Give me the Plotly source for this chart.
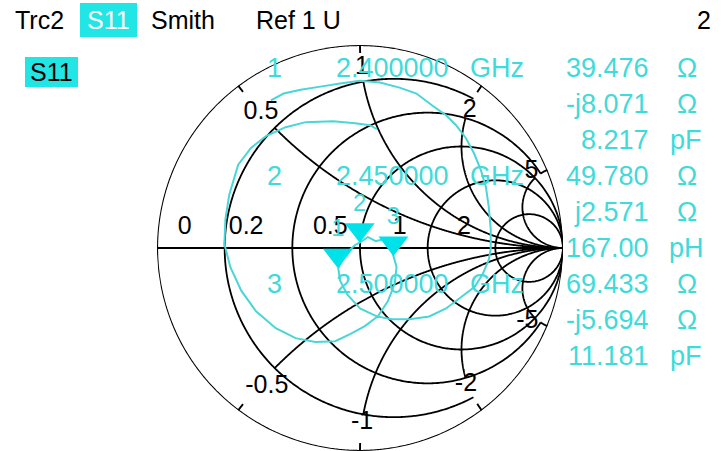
import numpy as np
import plotly.graph_objects as go

W, H = 725, 451

# ---------------- data ----------------
# S11 trace as reflection coefficient (real / imaginary part)
s11_re = [-0.439, -0.376, -0.293, -0.195, -0.098, 0.000, 0.098, 0.195, 0.278, 0.356,
          0.424, 0.473, 0.522, 0.561, 0.595, 0.620, 0.634, 0.644, 0.644, 0.634,
          0.605, 0.566, 0.502, 0.424, 0.341, 0.244, 0.156, 0.083, 0.000, -0.063,
          -0.098, -0.107, -0.073, -0.024, -0.002, 0.039, 0.078, 0.117, 0.151, 0.165,
          0.180, 0.171, 0.137, 0.088, 0.024, -0.049, -0.122, -0.220, -0.317, -0.415,
          -0.512, -0.585, -0.639, -0.668, -0.663, -0.644, -0.600, -0.537, -0.463, -0.366,
          -0.268, -0.132, -0.024, 0.049, 0.083]
s11_im = [0.727, 0.761, 0.780, 0.795, 0.810, 0.824, 0.815, 0.790, 0.761, 0.702,
          0.654, 0.605, 0.541, 0.468, 0.385, 0.302, 0.205, 0.093, -0.005, -0.059,
          -0.127, -0.190, -0.239, -0.298, -0.337, -0.351, -0.351, -0.337, -0.298, -0.229,
          -0.161, -0.100, -0.029, 0.015, 0.026, 0.054, 0.034, 0.044, 0.015, -0.040,
          -0.093, -0.176, -0.263, -0.337, -0.385, -0.424, -0.459, -0.463, -0.444, -0.395,
          -0.312, -0.210, -0.093, 0.020, 0.141, 0.263, 0.410, 0.493, 0.551, 0.595,
          0.620, 0.624, 0.615, 0.605, 0.585]

# marker readouts
Z0 = 50.0
marker_num = ["1", "2", "3"]
marker_freq = ["2.400000", "2.450000", "2.500000"]
marker_res = [39.476, 49.780, 69.433]
marker_reac = [-8.071, 2.571, -5.694]
marker_reac_txt = ["-j8.071", "j2.571", "-j5.694"]
marker_lc = ["8.217", "167.00", "11.181"]
marker_lc_unit = ["pF", "pH", "pF"]

# Smith grid values
grid_r = [0.2, 0.5, 1, 2, 5]
grid_r_xlim = [2, 5, 1e4, 1e4, 1e4]
grid_x = [0.5, 1, 2, 5]
grid_x_rstart = [0.2, 0.2, 0.5, 1]

real_lbl = ["0", "0.2", "0.5", "1", "2"]
imag_lbl = ["0.5", "1", "2", "5", "-0.5", "-1", "-2", "-5"]

# label anchor positions (in reflection-coefficient plane)
real_lbl_g = [(-0.863, 0.102), (-0.561, 0.102), (-0.146, 0.102), (0.195, 0.102), (0.512, 0.102)]
imag_lbl_g = [(-0.488, 0.668), (0.010, 0.888), (0.541, 0.678), (0.844, 0.376),
              (-0.459, -0.683), (0.010, -0.859), (0.522, -0.673), (0.824, -0.361)]

# ---------------- styling ----------------
TXT = "#3FDADA"
LINE = "#4AD6D6"
TRI = "#00E2EA"
BADGE = "#22E6E6"
FONT = "Liberation Sans, Arial, sans-serif"


def g2z(gr, gi):
    g = np.asarray(gr, dtype=float) + 1j * np.asarray(gi, dtype=float)
    z = (1 + g) / (1 - g)
    return z.real, z.imag


fig = go.Figure()


def add_line(real, imag, width=1.8):
    fig.add_trace(go.Scattersmith(real=list(real), imag=list(imag), mode="lines",
                                  line=dict(color="black", width=width),
                                  hoverinfo="skip", showlegend=False))


BIG = 1e4
# outer circle and horizontal line
t = np.linspace(-np.arctan(BIG), np.arctan(BIG), 900)
add_line(np.zeros_like(t), np.tan(t), width=2.2)
add_line([0, 1e6], [0, 0], width=1.9)

# resistance circles (partially drawn like the analyzer grid)
for r, xl in zip(grid_r, grid_r_xlim):
    t = np.linspace(-np.arctan(xl), np.arctan(xl), 500)
    add_line(np.full_like(t, r), np.tan(t))

# reactance arcs + small ticks at the rim
for x, r0 in zip(grid_x, grid_x_rstart):
    t = np.linspace(np.arctan(r0), np.arctan(BIG), 500)
    tick = 0.04 * (1 + x * x) / 2.0
    tt = np.linspace(0, np.arctan(tick), 20)
    for s in (1, -1):
        add_line(np.tan(t), np.full_like(t, s * x))
        add_line(np.tan(tt), np.full_like(tt, s * x), width=1.9)

# grid labels
lr, li = g2z([p[0] for p in real_lbl_g], [p[1] for p in real_lbl_g])
fig.add_trace(go.Scattersmith(real=lr, imag=li, mode="text", text=real_lbl,
                              textposition="middle center",
                              textfont=dict(family=FONT, size=25, color="black"),
                              hoverinfo="skip", showlegend=False))
lr, li = g2z([p[0] for p in imag_lbl_g], [p[1] for p in imag_lbl_g])
fig.add_trace(go.Scattersmith(real=lr, imag=li, mode="text", text=imag_lbl,
                              textposition="middle center",
                              textfont=dict(family=FONT, size=25, color="black"),
                              hoverinfo="skip", showlegend=False))

# S11 trace
zr, zi = g2z(s11_re, s11_im)
fig.add_trace(go.Scattersmith(real=zr, imag=zi, mode="lines",
                              line=dict(color=LINE, width=2),
                              hoverinfo="skip", showlegend=False))

# markers (down-pointing triangles whose tip sits on the point)
mr = [v / Z0 for v in marker_res]
mi = [v / Z0 for v in marker_reac]
fig.add_trace(go.Scattersmith(real=mr, imag=mi, mode="markers",
                              marker=dict(symbol="triangle-up", angle=180, standoff=13,
                                          size=26, color=TRI, line=dict(width=0)),
                              hoverinfo="skip", showlegend=False))
fig.add_trace(go.Scattersmith(real=mr, imag=mi, mode="markers+text", text=marker_num,
                              textposition="top center",
                              textfont=dict(family=FONT, size=24, color=TXT),
                              marker=dict(size=40, color="rgba(0,0,0,0)"),
                              hoverinfo="skip", showlegend=False))

fig.update_layout(
    width=W, height=H,
    margin=dict(l=0, r=0, t=0, b=0),
    paper_bgcolor="white", plot_bgcolor="white",
    showlegend=False,
    smith=dict(
        domain=dict(x=[157 / W, 563 / W], y=[0, 406 / H]),
        bgcolor="white",
        realaxis=dict(showgrid=False, showticklabels=False, showline=False, ticks=""),
        imaginaryaxis=dict(showgrid=False, showticklabels=False, showline=False, ticks=""),
    ),
)


def ann(text, x, y, xanchor="left", color="black", size=27):
    fig.add_annotation(text=text, x=x / W, y=1 - y / H, xref="paper", yref="paper",
                       xanchor=xanchor, yanchor="middle", showarrow=False,
                       font=dict(family=FONT, size=size, color=color))


def box(x0, y0, x1, y1, color):
    fig.add_shape(type="rect", xref="paper", yref="paper",
                  x0=x0 / W, x1=x1 / W, y0=1 - y1 / H, y1=1 - y0 / H,
                  fillcolor=color, line=dict(width=0), layer="below")


# header
box(80, 3, 137, 37, BADGE)
box(25, 57, 78, 87, BADGE)
ann("Trc2", 13, 20, size=25)
ann("S11", 108.5, 20, xanchor="center", color="white", size=25)
ann("Smith", 149, 20, size=25)
ann("Ref 1 U", 254, 20, size=25)
ann("2", 713, 20, xanchor="right", size=25)
ann("S11", 51.5, 72, xanchor="center", size=25)

# marker readouts
rows_y = [68, 104, 140, 176, 212, 248, 284, 320, 356]
for i in range(3):
    y0 = rows_y[3 * i]
    ann(marker_num[i], 274, y0, xanchor="center", color=TXT)
    ann(marker_freq[i], 451, y0, xanchor="right", color=TXT)
    ann("GHz", 468, y0, color=TXT)
    ann(f"{marker_res[i]:.3f}", 651, y0, xanchor="right", color=TXT)
    ann("\u03a9", 687, y0, xanchor="center", color=TXT)
    ann(marker_reac_txt[i], 651, rows_y[3 * i + 1], xanchor="right", color=TXT)
    ann("\u03a9", 687, rows_y[3 * i + 1], xanchor="center", color=TXT)
    ann(marker_lc[i], 651, rows_y[3 * i + 2], xanchor="right", color=TXT)
    ann(marker_lc_unit[i], 686, rows_y[3 * i + 2], xanchor="center", color=TXT)

fig.write_html("out.html",
               config={"displayModeBar": False},
               post_script="document.body.style.margin='0px';document.body.style.overflow='hidden';")
